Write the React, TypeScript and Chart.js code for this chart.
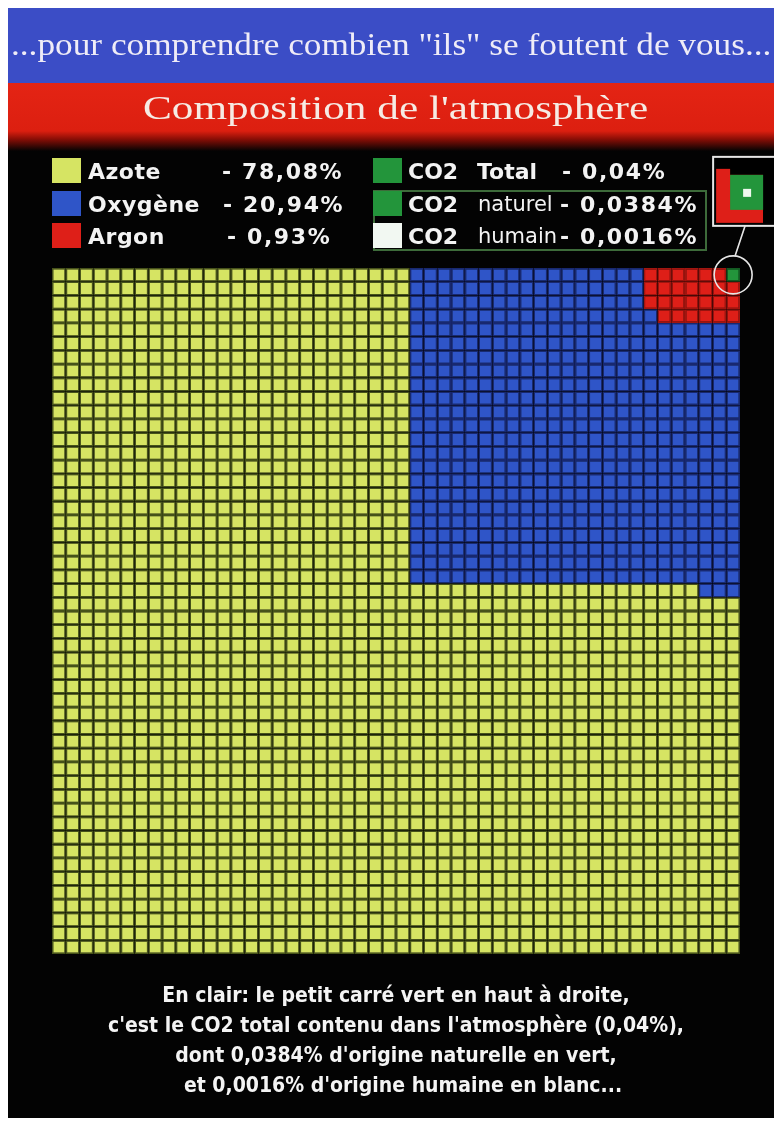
import React, { useEffect, useLayoutEffect, useRef, useState } from "react";
import { Chart, registerables } from "chart.js";

Chart.register(...registerables);

// ---------- Texts ----------
const TITLE_TOP = '...pour comprendre combien "ils" se foutent de vous...';
const TITLE_MAIN = "Composition de l'atmosphère";
const FOOTNOTE_LINES = [
  "En clair: le petit carré vert en haut à droite,",
  "c'est le CO2 total contenu dans l'atmosphère (0,04%),",
  "dont 0,0384% d'origine naturelle en vert,",
  "et 0,0016% d'origine humaine en blanc...",
];

// ---------- Data ----------
const categories = ["Azote", "Oxygène", "Argon", "CO2 naturel", "CO2 humain"];
const legendLeftNames = ["Azote", "Oxygène", "Argon"];
const legendLeftValues = ["- 78,08%", "- 20,94%", "- 0,93%"];
const legendRightPrefix = ["CO2", "CO2", "CO2"];
const legendRightNames = ["Total", "naturel", "humain"];
const legendRightValues = ["- 0,04%", "- 0,0384%", "- 0,0016%"];
const percentages = [78.08, 20.94, 0.93, 0.04, 0.0384, 0.0016];

// Waffle grid 50 x 50 (each cell = 0,04 %), spans:
// [rowFrom, rowTo, colFrom, colTo]
const GRID_COLS = 50;
const GRID_ROWS = 50;
const oxygenSpans = [
  [0, 22, 26, 49],
  [23, 23, 47, 49],
];
const argonSpans = [
  [0, 2, 43, 49],
  [3, 3, 44, 49],
];
const co2NaturalSpans = [[0, 0, 49, 49]];
const co2HumanSpans = [[0, 0, 49, 49]];

// ---------- Styles ----------
const fillColors = ["#d6e463", "#2f55c8", "#de1f18", "#23953b", "#eef8ee"];
const borderColors = ["#46521a", "#182870", "#a2150f", "#125a22", "#eef8ee"];
const legendRightColors = ["#23953b", "#23953b", "#f2f8f2"];

function buildMatrix(): number[][] {
  const m: number[][] = [];
  for (let r = 0; r < GRID_ROWS; r++) {
    m.push(new Array(GRID_COLS).fill(0));
  }
  const paint = (spans: number[][], k: number) => {
    spans.forEach(([r0, r1, c0, c1]) => {
      for (let r = r0; r <= r1; r++) for (let c = c0; c <= c1; c++) m[r][c] = k;
    });
  };
  paint(oxygenSpans, 1);
  paint(argonSpans, 2);
  paint(co2NaturalSpans, 3);
  return m;
}

function FitText({ text, width, style }: { text: string; width: number; style: React.CSSProperties }) {
  const ref = useRef<HTMLSpanElement>(null);
  const [s, setS] = useState(1);
  useLayoutEffect(() => {
    if (ref.current) {
      const w = ref.current.offsetWidth;
      if (w > 0) setS(width / w);
    }
  }, [text, width]);
  return (
    <span
      ref={ref}
      style={{
        display: "inline-block",
        whiteSpace: "nowrap",
        transform: `scaleX(${s})`,
        transformOrigin: "center",
        ...style,
      }}
    >
      {text}
    </span>
  );
}

const insetPlugin = {
  id: "insetPlugin",
  afterDatasetsDraw(chart: any) {
    const xs = chart.scales.x;
    const ys = chart.scales.y;
    const [r0, , c0] = co2NaturalSpans[0];
    const cx = xs.getPixelForValue(c0);
    const cy = ys.getPixelForValue(r0 + 0.5);
    const ctx = chart.ctx;
    ctx.save();
    // circle around the CO2 cell
    ctx.strokeStyle = "#e6e6e6";
    ctx.lineWidth = 1.6;
    ctx.beginPath();
    ctx.arc(cx, cy, 19, 0, Math.PI * 2);
    ctx.stroke();
    // connector
    ctx.beginPath();
    ctx.moveTo(cx + 2, cy - 19);
    ctx.lineTo(cx + 12, cy - 49);
    ctx.stroke();
    // magnified inset
    const bx = cx - 20;
    const by = cy - 118;
    const bw = 64;
    const bh = 69;
    ctx.fillStyle = "#000";
    ctx.fillRect(bx, by, bw, bh);
    ctx.fillStyle = fillColors[2];
    ctx.fillRect(cx - 17, cy - 106, 47, 54);
    ctx.fillStyle = "#000";
    ctx.fillRect(cx - 3, cy - 111, 40, 11);
    ctx.fillRect(cx + 30, cy - 111, 10, 60);
    ctx.fillStyle = fillColors[3];
    ctx.fillRect(cx - 3, cy - 100, 33, 35);
    ctx.fillStyle = fillColors[4];
    ctx.fillRect(cx + 10, cy - 86, 8, 8);
    ctx.strokeStyle = "#e6e6e6";
    ctx.lineWidth = 2;
    ctx.strokeRect(bx, by, bw, bh);
    ctx.restore();
  },
};

function WaffleChart() {
  const canvasRef = useRef<HTMLCanvasElement>(null);
  useEffect(() => {
    if (!canvasRef.current) return;
    const m = buildMatrix();
    const labels = Array.from({ length: GRID_COLS }, (_, i) => String(i));
    const datasets: any[] = [0, 1, 2, 3].map((k) => {
      const data: any[] = [];
      for (let r = 0; r < GRID_ROWS; r++)
        for (let c = 0; c < GRID_COLS; c++)
          if (m[r][c] === k) data.push({ x: String(c), y: [r, r + 1] });
      return {
        label: categories[k],
        data,
        backgroundColor: fillColors[k],
        borderColor: borderColors[k],
        borderWidth: 1.4,
      };
    });
    const humanData: any[] = [];
    co2HumanSpans.forEach(([r0, r1, c0, c1]) => {
      for (let r = r0; r <= r1; r++)
        for (let c = c0; c <= c1; c++) humanData.push({ x: String(c), y: [r + 0.38, r + 0.62] });
    });
    datasets.push({
      label: categories[4],
      data: humanData,
      backgroundColor: fillColors[4],
      borderWidth: 0,
      barPercentage: 0.26,
    });

    const chart = new Chart(canvasRef.current, {
      type: "bar",
      data: { labels, datasets },
      options: {
        responsive: false,
        animation: false,
        layout: { padding: { left: 44, right: 34, top: 260, bottom: 164 } },
        plugins: { legend: { display: false }, tooltip: { enabled: false }, title: { display: false } },
        datasets: {
          bar: {
            grouped: false,
            categoryPercentage: 1,
            barPercentage: 1,
            borderSkipped: false,
            inflateAmount: 0,
          },
        } as any,
        scales: {
          x: { type: "category", display: false, offset: true, grid: { display: false } },
          y: { type: "linear", min: 0, max: GRID_ROWS, reverse: true, display: false },
        },
      },
      plugins: [insetPlugin],
    });
    return () => chart.destroy();
  }, []);
  return (
    <canvas
      ref={canvasRef}
      width={766}
      height={1110}
      style={{ position: "absolute", left: 0, top: 0, width: 766, height: 1110 }}
    />
  );
}

const legendFont: React.CSSProperties = {
  fontFamily: '"DejaVu Sans", Verdana, sans-serif',
  fontWeight: 700,
  fontSize: 22,
  color: "#f3f3f3",
  lineHeight: "25px",
  position: "absolute",
  whiteSpace: "nowrap",
};

const rowTops = [150, 183, 215];

export default function App() {
  useLayoutEffect(() => {
    document.documentElement.style.overflow = "hidden";
    document.body.style.overflow = "hidden";
  }, []);
  return (
    <div
      style={{
        position: "absolute",
        left: 8,
        top: 8,
        width: 766,
        height: 1110,
        background: "#030303",
        overflow: "hidden",
      }}
    >
      {/* header bands */}
      <div style={{ position: "absolute", left: 0, top: 0, width: 766, height: 75, background: "#3b4dc6" }} />
      <div
        style={{
          position: "absolute",
          left: 0,
          top: 75,
          width: 766,
          height: 68,
          background: "linear-gradient(#e42414 0px, #dc1f10 48px, #8a0e06 56px, #030303 68px)",
        }}
      />
      <WaffleChart />
      <div
        style={{
          position: "absolute",
          left: 0,
          top: 14,
          width: 766,
          height: 46,
          textAlign: "center",
          lineHeight: "46px",
        }}
      >
        <FitText
          text={TITLE_TOP}
          width={760}
          style={{ fontFamily: '"Liberation Serif", serif', fontSize: 31, color: "#efecf7" }}
        />
      </div>
      <div
        style={{
          position: "absolute",
          left: 0,
          top: 78,
          width: 776,
          height: 44,
          textAlign: "center",
          lineHeight: "44px",
        }}
      >
        <FitText
          text={TITLE_MAIN}
          width={505}
          style={{ fontFamily: '"Liberation Serif", serif', fontSize: 34, color: "#f6ebe4" }}
        />
      </div>

      {/* legend left */}
      {legendLeftNames.map((n, i) => (
        <React.Fragment key={n}>
          <div
            style={{
              position: "absolute",
              left: 44,
              top: rowTops[i],
              width: 29,
              height: 25,
              background: fillColors[i],
            }}
          />
          <div style={{ ...legendFont, left: 80, top: rowTops[i] + 1, letterSpacing: 0.5 }}>{n}</div>
          <div style={{ ...legendFont, left: [214, 215, 219][i], top: rowTops[i] + 1, letterSpacing: 1.6 }}>
            {legendLeftValues[i]}
          </div>
        </React.Fragment>
      ))}
      {/* legend right */}
      <div
        style={{
          position: "absolute",
          left: 365,
          top: 182,
          width: 330,
          height: 57,
          border: "2px solid #3d6b3a",
        }}
      />
      {legendRightNames.map((n, i) => (
        <React.Fragment key={n}>
          <div
            style={{
              position: "absolute",
              left: 365,
              top: rowTops[i],
              width: 29,
              height: 25,
              background: legendRightColors[i],
            }}
          />
          <div style={{ ...legendFont, left: 400, top: rowTops[i] + 1 }}>{legendRightPrefix[i]}</div>
          <div
            style={{
              ...legendFont,
              left: i === 0 ? 469 : 470,
              top: rowTops[i] + 1,
              fontWeight: i === 0 ? 700 : 400,
              fontSize: i === 0 ? 22 : 21,
            }}
          >
            {n}
          </div>
          <div style={{ ...legendFont, left: i === 0 ? 554 : 552, top: rowTops[i] + 1, letterSpacing: 1.6 }}>
            {legendRightValues[i]}
          </div>
        </React.Fragment>
      ))}

      {/* footnote */}
      <div
        style={{
          position: "absolute",
          left: 44,
          top: 972,
          width: 688,
          textAlign: "center",
          fontFamily: '"DejaVu Sans Condensed", "DejaVu Sans", sans-serif',
          fontStretch: "condensed",
          fontWeight: 700,
          fontSize: 21,
          lineHeight: "30px",
          color: "#f4f4f4",
        }}
      >
        {FOOTNOTE_LINES.map((l, i) => (
          <div key={i} style={{ paddingLeft: i === 3 ? 14 : 0 }}>
            {l}
          </div>
        ))}
      </div>
    </div>
  );
}
